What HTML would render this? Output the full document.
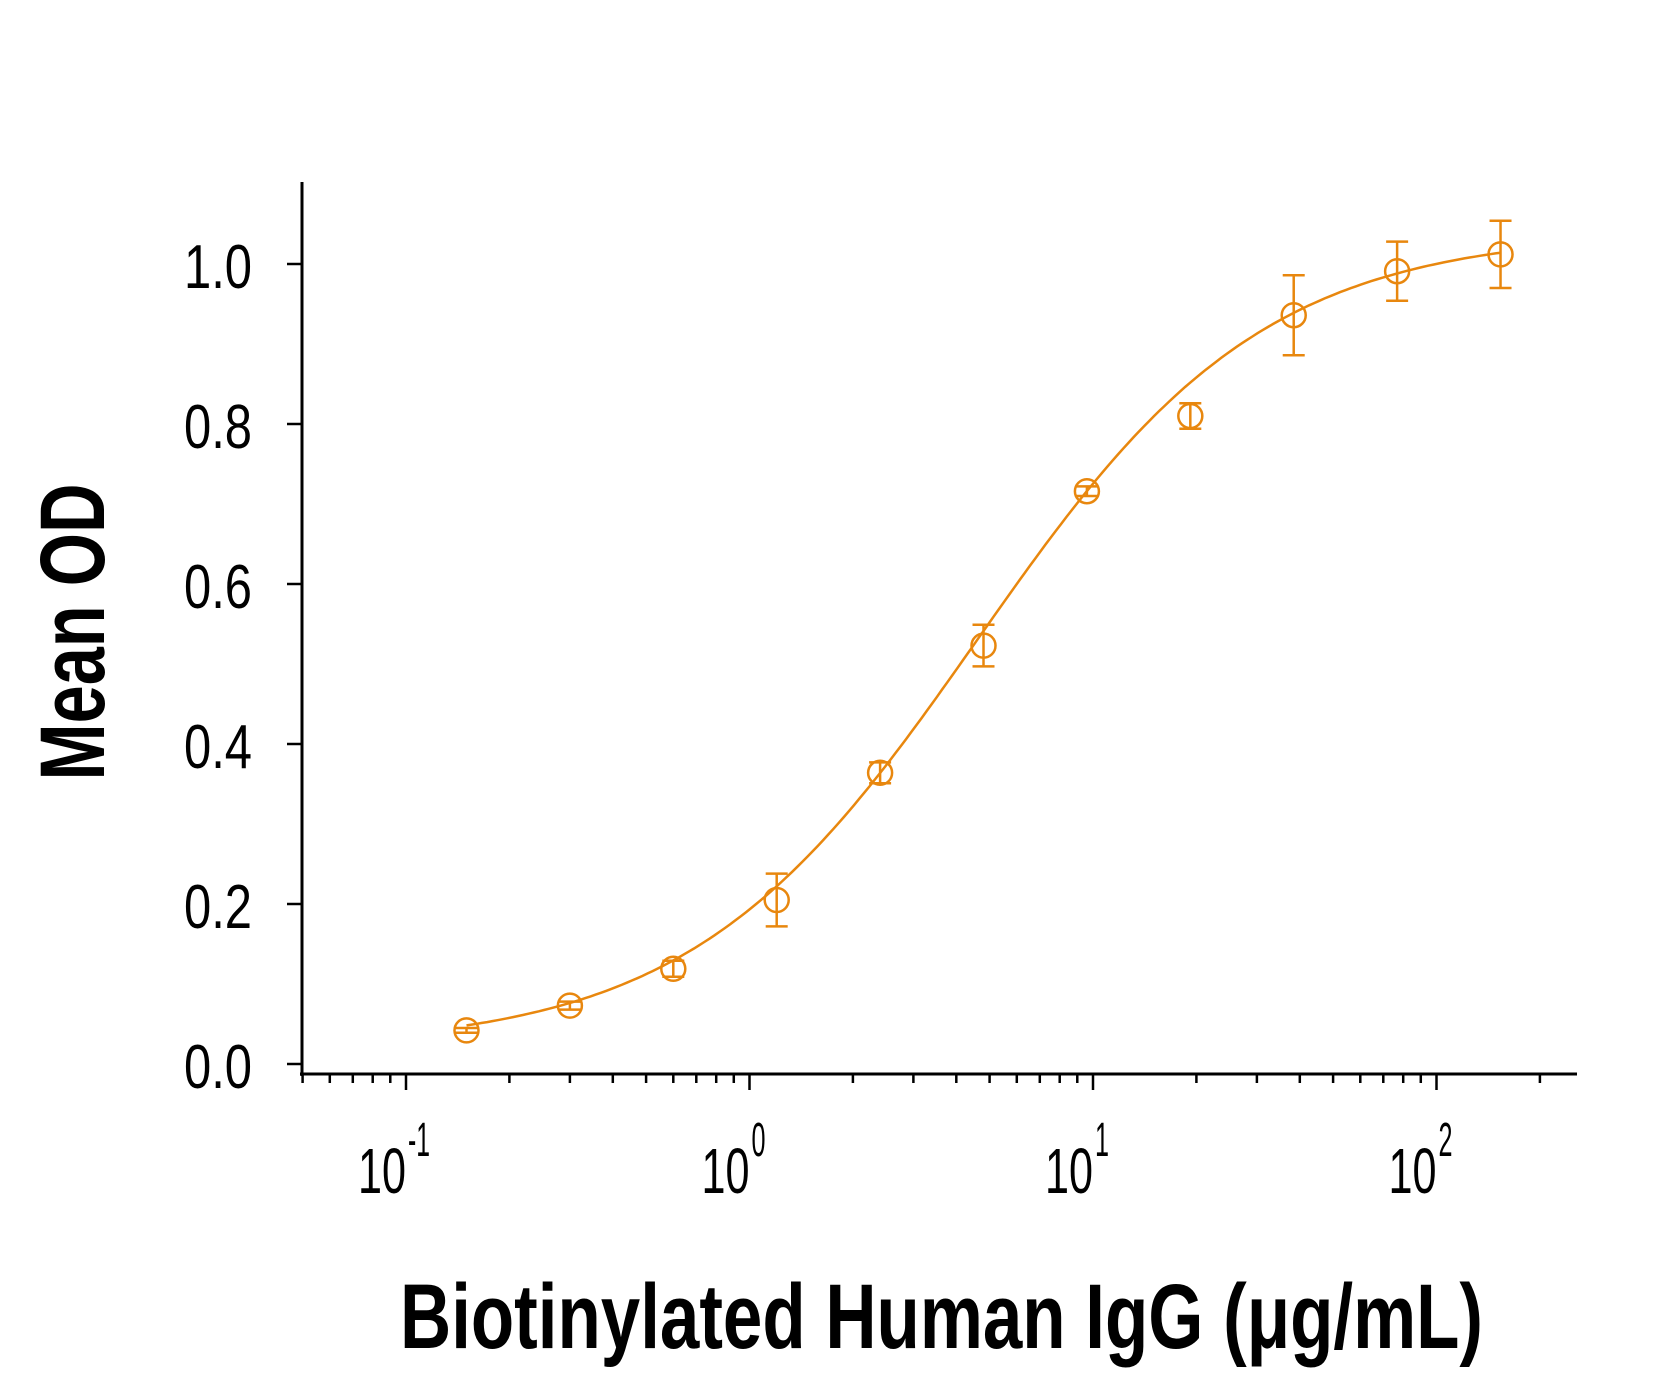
<!DOCTYPE html>
<html><head><meta charset="utf-8"><style>html,body{margin:0;padding:0;background:#fff}svg{display:block}</style></head>
<body>
<svg id="s" width="1657" height="1380" xmlns="http://www.w3.org/2000/svg" font-family="Liberation Sans, sans-serif">
<rect width="1657" height="1380" fill="#fff"/>
<g stroke="#000" stroke-width="3" fill="none">
<line x1="302" y1="182" x2="302" y2="1076"/>
<line x1="300" y1="1074" x2="1577" y2="1074"/>
</g>
<g id="ticks" stroke="#000" stroke-width="2.5"></g>
<g font-size="62" fill="#000" text-anchor="end" id="ylab"></g>
<g font-size="64" fill="#000" id="xlab"></g>
<text x="400" y="1348" font-size="92" font-weight="bold" textLength="1083" lengthAdjust="spacingAndGlyphs">Biotinylated Human IgG (μg/mL)</text>
<text transform="translate(104,632) rotate(-90)" text-anchor="middle" font-size="92" font-weight="bold" textLength="297" lengthAdjust="spacingAndGlyphs">Mean OD</text>
<g id="data" stroke="#E8870E" stroke-width="2.5" fill="none"></g>
</svg>
<script>
var NS="http://www.w3.org/2000/svg";
function el(p,t,a,txt){var e=document.createElementNS(NS,t);for(var k in a)e.setAttribute(k,a[k]);if(txt!==undefined)e.textContent=txt;p.appendChild(e);return e;}
function X(v){return 406+(Math.log10(v)+1)*343.5;}
function Y(v){return 1064-v*800;}
var tk=document.getElementById('ticks'),yl=document.getElementById('ylab'),xl=document.getElementById('xlab');
for(var i=0;i<=5;i++){var y=Y(i*0.2);el(tk,'line',{x1:287,y1:y,x2:302,y2:y});
el(yl,'text',{x:252,y:y+24,textLength:68,lengthAdjust:'spacingAndGlyphs'},(i*0.2).toFixed(1));}
for(var d=-2;d<=2;d++)for(var m=1;m<=9;m++){var v=m*Math.pow(10,d),x=X(v);if(x<301||x>1578)continue;
el(tk,'line',{x1:x,y1:1074,x2:x,y2:m==1?1090:1083});}
[-1,0,1,2].forEach(function(d){var x=X(Math.pow(10,d));
el(xl,'text',{x:x-48,y:1193,textLength:48,lengthAdjust:'spacingAndGlyphs'},'10');
el(xl,'text',{x:x+2,y:1156,'font-size':48,textLength:d<0?22:14,lengthAdjust:'spacingAndGlyphs'},d<0?'-1':String(d));});
var g=document.getElementById('data');
var pd='';for(var k=0;k<=200;k++){var lx=Math.log10(0.15)+k/200*(Math.log10(153.6)-Math.log10(0.15));var v=Math.pow(10,lx);
var yv=0.02+1.02/(1+Math.pow(4.6/v,1.04));pd+=(k?'L':'M')+X(v).toFixed(1)+' '+Y(yv).toFixed(1);}
el(g,'path',{d:pd});
var xs=[0.15,0.3,0.6,1.2,2.4,4.8,9.6,19.2,38.4,76.8,153.6];
var ys=[0.042,0.073,0.119,0.205,0.364,0.523,0.716,0.810,0.936,0.991,1.012];
var es=[0.003,0.005,0.01,0.033,0.013,0.026,0.006,0.016,0.05,0.037,0.042];
for(var i=0;i<xs.length;i++){var x=X(xs[i]),y=Y(ys[i]),e=es[i]*800;
el(g,'circle',{cx:x,cy:y,r:12});
el(g,'line',{x1:x,y1:y-e,x2:x,y2:y+e});
el(g,'line',{x1:x-11,y1:y-e,x2:x+11,y2:y-e});
el(g,'line',{x1:x-11,y1:y+e,x2:x+11,y2:y+e});}
</script>
</body></html>
